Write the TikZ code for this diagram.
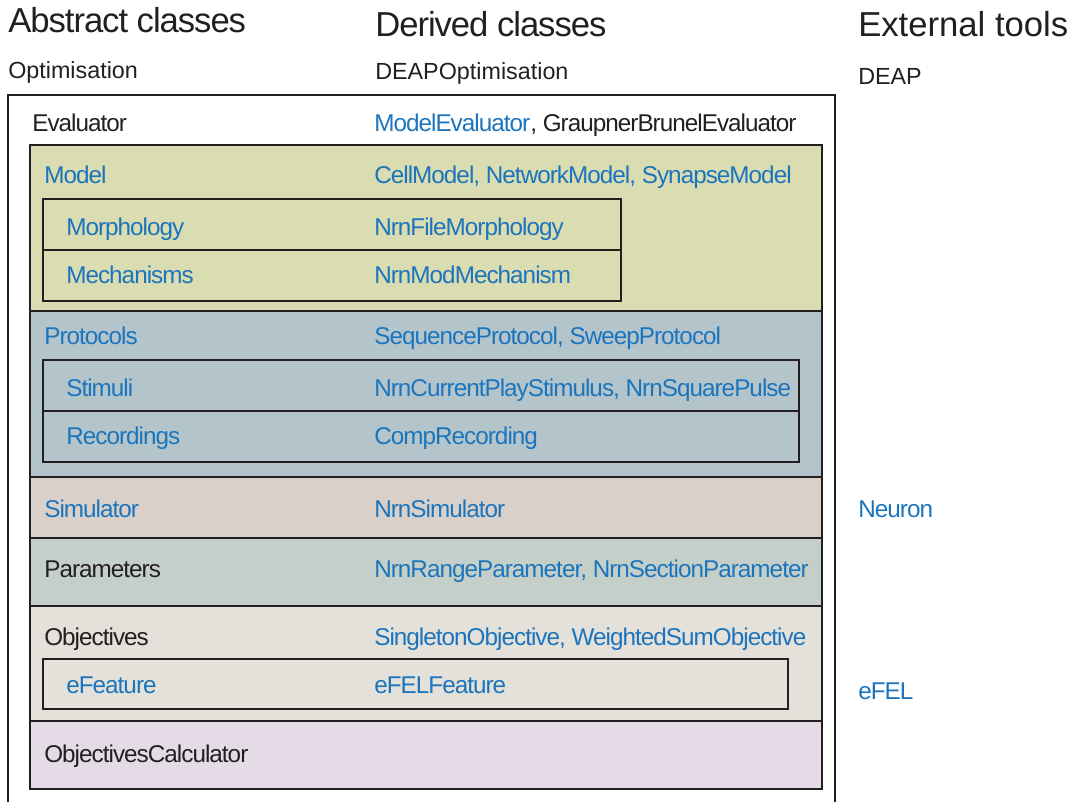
\documentclass[tikz,border=0pt]{standalone}
\usepackage{fontspec}
\setmainfont[LetterSpace=-4]{Liberation Sans}
\newfontfamily\headfont[LetterSpace=-3]{Liberation Sans}
\newfontfamily\subfont{Liberation Sans}
\definecolor{txt}{HTML}{231F20}
\definecolor{lnk}{HTML}{1C75BC}
\definecolor{cmodel}{HTML}{DADCB1}
\definecolor{cprot}{HTML}{B3C5CB}
\definecolor{csim}{HTML}{D9D0CA}
\definecolor{cpar}{HTML}{C5CFC9}
\definecolor{cobj}{HTML}{E4E0DA}
\definecolor{ccalc}{HTML}{E4DBE7}
\tikzset{
  sect/.style={draw=txt, line width=1.6pt},
  frame/.style={draw=txt, line width=1.5pt},
  head/.style={anchor=base west, inner sep=0pt, text=txt, font=\headfont\fontsize{26pt}{30pt}\selectfont},
  sub/.style={anchor=base west, inner sep=0pt, text=txt, font=\subfont\fontsize{17.5pt}{20pt}\selectfont},
  plain/.style={anchor=base west, inner sep=0pt, text=txt, font=\fontsize{18.2pt}{21pt}\selectfont},
  link/.style={plain, text=lnk}
}
\begin{document}
\begin{tikzpicture}[x=0.75pt,y=-0.75pt]
\useasboundingbox (0,0) rectangle (1068,802);
% headings
\node[head] (hA) at (8,33) {Abstract classes};
\node[head] (hD) at (375,37) {Derived classes};
\node[head, font=\subfont\fontsize{26pt}{30pt}\selectfont] (hE) at (858,37) {External tools};
\node[sub] (sA) at (8,79) {Optimisation};
\node[sub] (sD) at (375,80) {DEAPOptimisation};
\node[sub] (sE) at (858,85) {DEAP};
% outer frame (open at the bottom)
\draw[frame] (8,804) -- (8,95) -- (835,95) -- (835,804);
% sections
\draw[sect, fill=cmodel] (30,145) rectangle (822,311);
\draw[sect, fill=cprot]  (30,311) rectangle (822,477);
\draw[sect, fill=csim]   (30,477) rectangle (822,538);
\draw[sect, fill=cpar]   (30,538) rectangle (822,606);
\draw[sect, fill=cobj]   (30,606) rectangle (822,721);
\draw[sect, fill=ccalc]  (30,721) rectangle (822,789);
% inner boxes
\draw[sect] (43,199) rectangle (621,301);
\draw[sect] (43,250) -- (621,250);
\draw[sect] (43,360) rectangle (799,462);
\draw[sect] (43,411) -- (799,411);
\draw[sect] (43,659) rectangle (788,709);
% rows
\node[plain] (evA) at (32,132) {Evaluator};
\node[plain] (evD) at (374,132) {\textcolor{lnk}{ModelEvaluator}, GraupnerBrunelEvaluator};
\node[link] (moA) at (44,184) {Model};
\node[link] (moD) at (374,184) {CellModel, NetworkModel, SynapseModel};
\node[link] (mpA) at (66,236) {Morphology};
\node[link] (mpD) at (374,236) {NrnFileMorphology};
\node[link] (meA) at (66,284) {Mechanisms};
\node[link] (meD) at (374,284) {NrnModMechanism};
\node[link] (prA) at (44,345) {Protocols};
\node[link] (prD) at (374,345) {SequenceProtocol, SweepProtocol};
\node[link] (stA) at (66,397) {Stimuli};
\node[link] (stD) at (374,397) {NrnCurrentPlayStimulus, NrnSquarePulse};
\node[link] (reA) at (66,445) {Recordings};
\node[link] (reD) at (374,445) {CompRecording};
\node[link] (siA) at (44,517) {Simulator};
\node[link] (siD) at (374,517) {NrnSimulator};
\node[link] (siE) at (858,517) {Neuron};
\node[plain] (paA) at (44,577) {Parameters};
\node[link] (paD) at (374,577) {NrnRangeParameter, NrnSectionParameter};
\node[plain] (obA) at (44,645) {Objectives};
\node[link] (obD) at (374,645) {SingletonObjective, WeightedSumObjective};
\node[link] (efA) at (66,693) {eFeature};
\node[link] (efD) at (374,693) {eFELFeature};
\node[link] (efE) at (858,699) {eFEL};
\node[plain] (ocA) at (44,762) {ObjectivesCalculator};
\end{tikzpicture}
\end{document}
